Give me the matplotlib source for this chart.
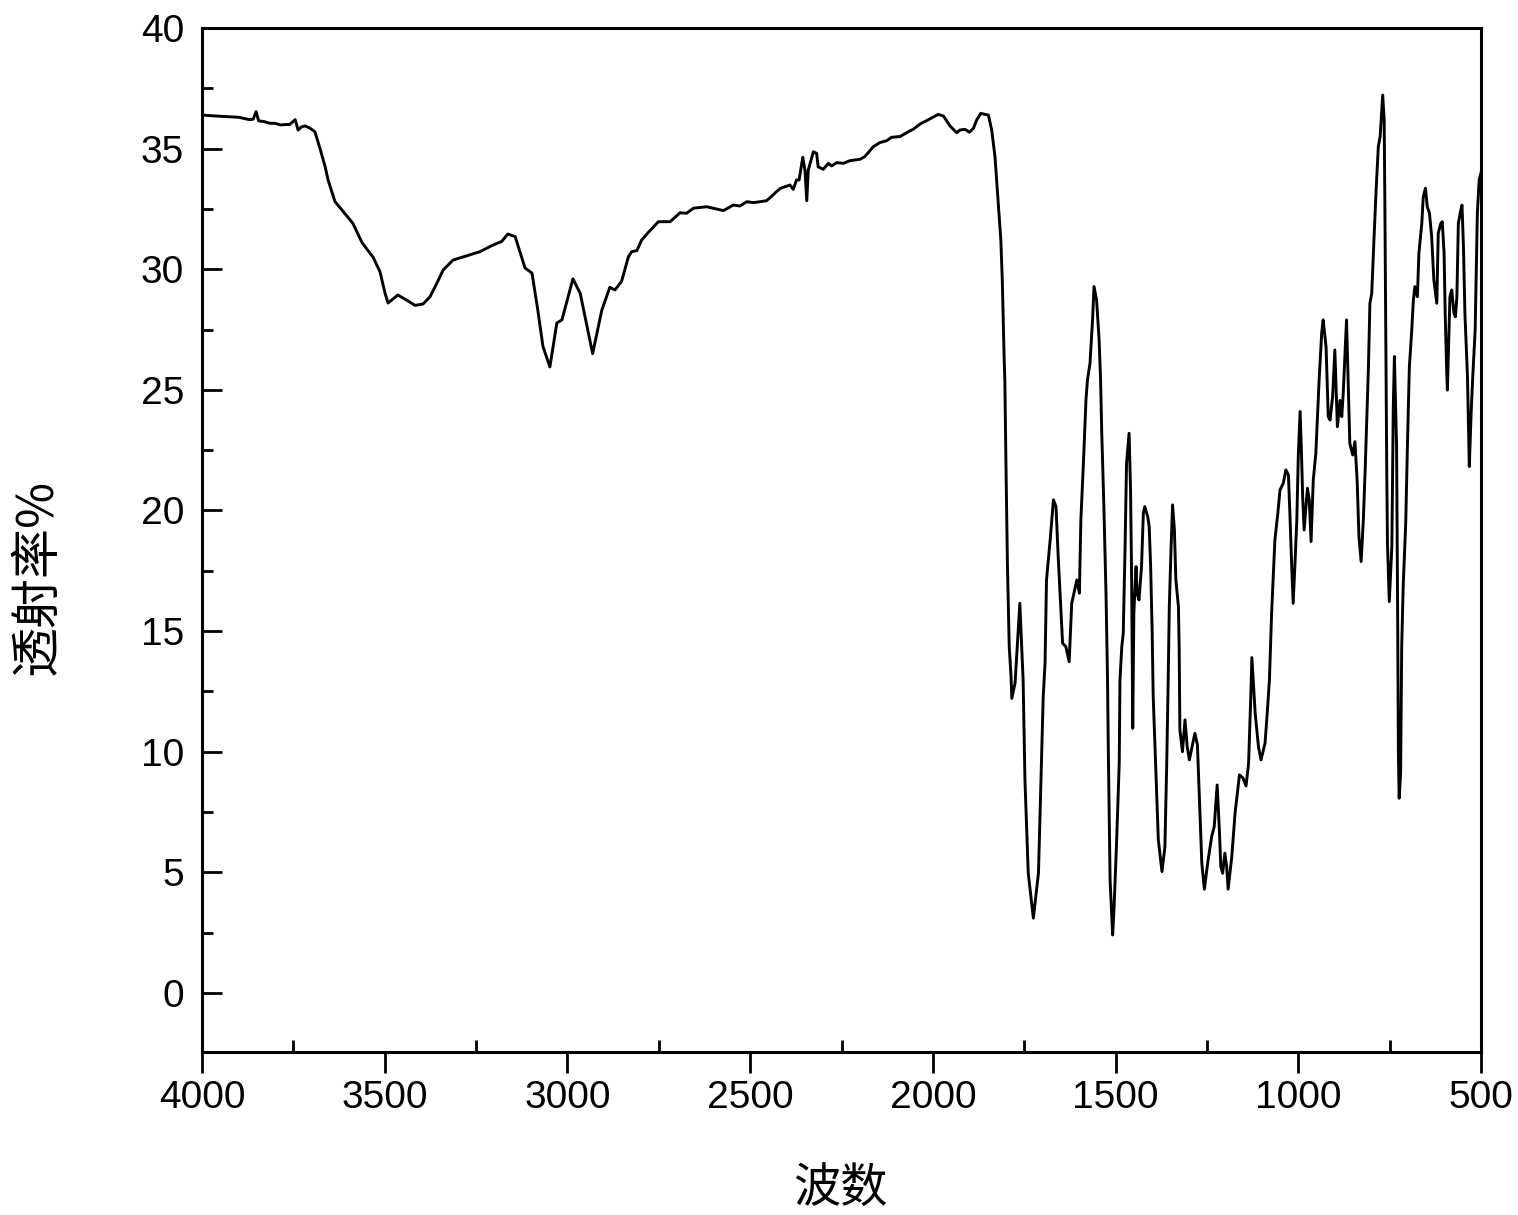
import matplotlib
matplotlib.use("Agg")
import matplotlib.pyplot as plt
from matplotlib.ticker import MultipleLocator

# Wavenumber (cm-1) and transmittance (%)
wavenumber = [
    4000, 3950, 3900, 3870, 3860, 3852, 3845, 3830, 3815, 3800, 3785, 3770, 3760, 3745, 3737,
    3728, 3718, 3705, 3691, 3677, 3663, 3655, 3636, 3614, 3587, 3562, 3532, 3513, 3499, 3491,
    3464, 3440, 3417, 3395, 3376, 3358, 3340, 3313, 3275, 3239, 3204, 3180, 3163, 3143, 3116,
    3097, 3081, 3067, 3048, 3029, 3015, 2985, 2965, 2946, 2931, 2906, 2884, 2870, 2852, 2833,
    2824, 2810, 2797, 2779, 2751, 2719, 2692, 2674, 2655, 2619, 2573, 2546, 2528, 2509, 2491,
    2455, 2418, 2391, 2382, 2373, 2366, 2356, 2350, 2345, 2341, 2327, 2318, 2314, 2300, 2286,
    2277, 2263, 2245, 2227, 2199, 2186, 2163, 2145, 2126, 2113, 2090, 2067, 2054, 2035, 2017,
    1985, 1971, 1953, 1935, 1926, 1912, 1900, 1889, 1880, 1869, 1848, 1839, 1830, 1821, 1814,
    1810, 1805, 1803, 1800, 1796, 1791, 1786, 1784, 1775, 1762, 1753, 1748, 1739, 1725, 1711,
    1704, 1698, 1693, 1689, 1679, 1670, 1663, 1657, 1650, 1645, 1636, 1627, 1620, 1606, 1599,
    1595, 1588, 1581, 1577, 1570, 1563, 1559, 1552, 1545, 1541, 1538, 1532, 1526, 1522, 1520,
    1515, 1508, 1504, 1497, 1490, 1488, 1483, 1479, 1474, 1470, 1463, 1459, 1456, 1453, 1450,
    1444, 1441, 1436, 1429, 1424, 1420, 1412, 1408, 1404, 1400, 1397, 1389, 1383, 1373, 1365,
    1360, 1356, 1353, 1348, 1344, 1339, 1335, 1328, 1326, 1324, 1317, 1310, 1304, 1298, 1283,
    1276, 1269, 1264, 1257, 1248, 1237, 1230, 1222, 1216, 1212, 1207, 1201, 1196, 1192, 1182,
    1173, 1161, 1151, 1143, 1136, 1130, 1127, 1118, 1109, 1102, 1091, 1085, 1079, 1073, 1068,
    1064, 1056, 1050, 1041, 1034, 1027, 1023, 1018, 1014, 1009, 1004, 1000, 995, 991, 988,
    984, 975, 970, 965, 959, 952, 947, 943, 936, 932, 924, 918, 913, 906, 900,
    893, 886, 881, 877, 868, 859, 851, 845, 839, 834, 828, 822, 817, 808, 804,
    799, 793, 787, 781, 776, 772, 769, 765, 763, 758, 756, 751, 744, 740, 737,
    731, 728, 726, 724, 720, 717, 713, 706, 701, 696, 690, 685, 681, 674, 670,
    662, 658, 652, 647, 641, 635, 629, 621, 617, 610, 606, 601, 598, 594, 592,
    585, 580, 574, 570, 566, 562, 557, 552, 548, 544, 537, 535, 532, 527, 523,
    516, 510, 505, 500,
]
transmittance = [
    36.39, 36.34, 36.30, 36.20, 36.22, 36.53, 36.15, 36.12, 36.05, 36.05, 35.98, 36.00, 36.00, 36.20, 35.77,
    35.90, 35.94, 35.85, 35.70, 35.00, 34.25, 33.70, 32.80, 32.40, 31.90, 31.10, 30.50, 29.90, 29.00, 28.60,
    28.93, 28.72, 28.50, 28.56, 28.86, 29.40, 29.97, 30.38, 30.56, 30.73, 31.00, 31.15, 31.46, 31.35, 30.05,
    29.84, 28.30, 26.80, 25.95, 27.77, 27.90, 29.60, 29.00, 27.60, 26.50, 28.30, 29.25, 29.14, 29.49, 30.52,
    30.73, 30.77, 31.21, 31.52, 31.97, 31.97, 32.34, 32.32, 32.53, 32.59, 32.43, 32.66, 32.62, 32.80, 32.76,
    32.84, 33.35, 33.49, 33.31, 33.70, 33.70, 34.64, 34.11, 32.84, 34.11, 34.87, 34.80, 34.25, 34.14, 34.39,
    34.28, 34.42, 34.39, 34.50, 34.56, 34.67, 35.08, 35.25, 35.33, 35.47, 35.50, 35.70, 35.80, 36.02, 36.16,
    36.42, 36.35, 35.94, 35.66, 35.77, 35.80, 35.68, 35.84, 36.19, 36.46, 36.39, 35.77, 34.67, 32.73, 31.21,
    29.55, 26.38, 25.40, 21.97, 17.81, 14.35, 13.11, 12.21, 12.85, 16.15, 12.97, 8.83, 4.97, 3.10, 4.97,
    8.83, 12.28, 13.66, 17.12, 18.78, 20.44, 20.16, 18.08, 16.01, 14.50, 14.35, 13.73, 16.15, 17.12, 16.57,
    19.60, 21.96, 24.58, 25.40, 26.10, 27.90, 29.28, 28.73, 27.07, 25.40, 23.33, 20.16, 16.43, 12.97, 10.21,
    4.68, 2.40, 3.58, 6.34, 9.52, 12.97, 14.35, 14.91, 18.50, 21.96, 23.20, 20.85, 17.12, 10.97, 15.75,
    17.67, 16.57, 16.29, 17.67, 19.89, 20.16, 19.74, 19.33, 17.67, 15.05, 12.28, 8.83, 6.34, 5.03, 6.06,
    9.52, 12.97, 16.01, 18.50, 20.23, 19.19, 17.12, 16.01, 14.35, 10.90, 10.00, 11.32, 10.21, 9.66, 10.76,
    10.28, 7.45, 5.38, 4.30, 5.38, 6.48, 6.90, 8.62, 6.76, 5.24, 4.96, 5.79, 5.24, 4.30, 5.65,
    7.45, 9.04, 8.90, 8.58, 9.52, 12.28, 13.90, 11.60, 10.21, 9.66, 10.35, 11.60, 12.97, 15.74, 17.40,
    18.78, 19.88, 20.85, 21.13, 21.68, 21.47, 19.88, 17.67, 16.15, 17.81, 19.60, 22.24, 24.10, 22.24, 20.57,
    19.19, 20.92, 20.44, 18.71, 21.26, 22.37, 24.03, 25.40, 27.35, 27.90, 26.79, 23.89, 23.75, 24.72, 26.65,
    23.47, 24.56, 23.89, 24.86, 27.90, 22.78, 22.30, 22.85, 21.26, 18.92, 17.88, 19.60, 21.68, 25.96, 28.59,
    29.00, 31.21, 33.28, 35.08, 35.50, 36.46, 37.22, 36.19, 32.59, 21.82, 18.65, 16.22, 18.50, 24.30, 26.38,
    22.64, 15.46, 9.80, 8.07, 9.10, 14.35, 16.84, 19.47, 22.92, 25.96, 27.35, 28.73, 29.28, 28.86, 30.66,
    31.90, 33.00, 33.36, 32.59, 32.32, 31.35, 29.55, 28.59, 31.49, 31.90, 31.97, 30.66, 28.17, 25.82, 24.99,
    28.86, 29.14, 28.17, 28.03, 28.86, 31.90, 32.32, 32.66, 30.93, 28.17, 25.54, 24.03, 21.82, 24.03, 25.40,
    27.48, 32.32, 33.70, 34.00,
]

x_ticks = [4000, 3500, 3000, 2500, 2000, 1500, 1000, 500]
y_ticks = [0, 5, 10, 15, 20, 25, 30, 35, 40]
x_label = "波数"
y_label = "透射率%"

W, H = 1518, 1215
fig = plt.figure(figsize=(W / 100, H / 100), dpi=100)
ax = fig.add_axes([202 / W, 1 - 1052 / H, (1481 - 202) / W, (1052 - 28) / H])

ax.plot(wavenumber, transmittance, color="black", linewidth=2.1)

ax.set_xlim(4000, 500)
ax.set_ylim(-2.45, 40)
ax.set_xticks(x_ticks)
ax.set_yticks(y_ticks)
ax.xaxis.set_minor_locator(MultipleLocator(250))
ax.yaxis.set_minor_locator(MultipleLocator(2.5))

for s in ax.spines.values():
    s.set_linewidth(2.2)

num_font = "Liberation Sans"
ax.tick_params(axis="x", which="major", direction="out", length=15, width=2,
               labelsize=28, pad=5)
ax.tick_params(axis="x", which="minor", direction="in", length=8.5, width=2)
ax.tick_params(axis="y", which="major", direction="in", length=14.5, width=2,
               labelsize=28, pad=13)
ax.tick_params(axis="y", which="minor", direction="in", length=8, width=2)
for lab in ax.get_xticklabels() + ax.get_yticklabels():
    lab.set_fontfamily(num_font)

cjk = ["Noto Sans CJK SC", "DejaVu Sans"]
ax.set_xlabel(x_label, fontsize=34, family=cjk, va="center")
ax.set_ylabel(y_label, fontsize=36, family=cjk, va="center")
ax.xaxis.set_label_coords((840 - 202) / 1279, -(1190 - 1052) / 1024)
ax.yaxis.set_label_coords(-(202 - 38) / 1279, (1052 - 577) / 1024)

fig.savefig("out.png", dpi=100, facecolor="white")
